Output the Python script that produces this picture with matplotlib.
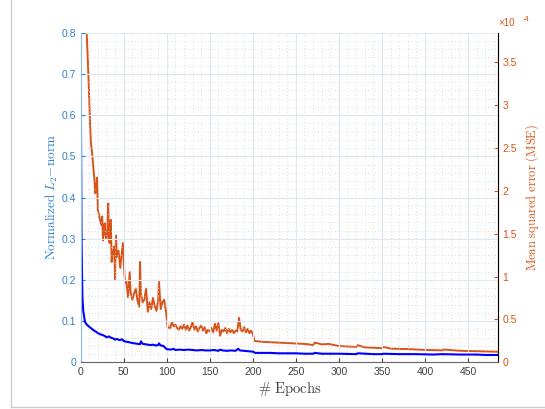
import numpy as np
import matplotlib
matplotlib.use("Agg")
import matplotlib.pyplot as plt
from matplotlib.lines import Line2D
from matplotlib.ticker import MultipleLocator

# Data, as (epoch, value) pairs
# Normalized L2-norm (left axis)
norm_points = [
    (0, 0.735), (1, 0.30), (2, 0.16), (3, 0.125), (5, 0.098), (7, 0.092), (9, 0.088),
    (12, 0.083), (15, 0.078), (18, 0.074), (20, 0.071), (23, 0.068), (26, 0.066),
    (28, 0.064), (30, 0.061), (33, 0.063), (35, 0.060), (38, 0.058), (40, 0.055),
    (42, 0.057), (45, 0.054), (48, 0.056), (50, 0.052), (53, 0.050), (56, 0.049),
    (60, 0.047), (63, 0.046), (66, 0.045), (69, 0.044), (70, 0.051), (72, 0.045),
    (75, 0.044), (78, 0.043), (81, 0.042), (84, 0.043), (87, 0.041), (90, 0.042),
    (91, 0.046), (93, 0.041), (96, 0.040), (100, 0.032), (105, 0.031), (108, 0.033),
    (110, 0.030), (115, 0.031), (120, 0.030), (125, 0.031), (130, 0.030), (135, 0.029),
    (140, 0.030), (145, 0.029), (150, 0.029), (155, 0.030), (160, 0.028), (162, 0.031),
    (165, 0.029), (170, 0.028), (175, 0.029), (180, 0.028), (183, 0.033), (185, 0.029),
    (190, 0.028), (195, 0.027), (200, 0.026), (203, 0.023), (210, 0.023), (220, 0.023),
    (230, 0.022), (240, 0.022), (250, 0.022), (260, 0.021), (270, 0.021), (272, 0.023),
    (280, 0.021), (290, 0.021), (300, 0.021), (320, 0.020), (322, 0.022), (340, 0.020),
    (350, 0.020), (352, 0.021), (370, 0.020), (390, 0.020), (410, 0.019), (420, 0.020),
    (440, 0.019), (460, 0.019), (470, 0.018), (484, 0.018),
]

# Mean squared error, in units of 1e-4 (right axis)
mse_points = [
    (1, 6.0), (6, 4.0), (7, 3.84), (9, 3.35), (11, 2.75), (12, 2.55), (13, 2.47),
    (15, 2.24), (16, 2.12), (17, 1.97), (18, 2.05), (19, 2.15), (20, 1.78), (21, 1.73),
    (22, 1.68), (24, 1.60), (25, 1.70), (26, 1.42), (27, 1.55), (28, 1.62), (29, 1.48),
    (30, 1.44), (31, 1.52), (32, 1.85), (33, 1.40), (34, 1.39), (35, 1.66), (36, 1.17),
    (37, 1.30), (38, 1.27), (39, 1.35), (40, 0.96), (41, 1.48), (42, 1.23), (44, 1.30),
    (46, 1.10), (47, 1.20), (49, 1.39), (51, 1.00), (52, 0.92), (53, 0.95), (55, 0.76),
    (57, 1.05), (58, 0.82), (60, 0.73), (62, 0.80), (64, 0.86), (66, 0.72), (68, 0.65),
    (69, 1.17), (70, 0.80), (72, 0.70), (74, 0.73), (76, 0.86), (78, 0.59), (80, 0.70),
    (82, 0.62), (84, 0.75), (86, 0.66), (88, 0.60), (90, 0.72), (91, 0.94), (93, 0.62),
    (95, 0.70), (97, 0.73), (99, 0.60), (101, 0.41), (104, 0.40), (106, 0.47),
    (108, 0.42), (110, 0.44), (112, 0.40), (114, 0.38), (116, 0.42), (118, 0.39),
    (120, 0.44), (122, 0.38), (124, 0.43), (126, 0.37), (128, 0.41), (130, 0.47),
    (132, 0.38), (134, 0.42), (136, 0.36), (138, 0.40), (140, 0.43), (142, 0.37),
    (144, 0.41), (146, 0.34), (148, 0.38), (150, 0.36), (152, 0.40), (154, 0.35),
    (156, 0.45), (158, 0.37), (160, 0.46), (162, 0.31), (164, 0.38), (166, 0.36),
    (168, 0.40), (170, 0.34), (172, 0.39), (174, 0.35), (176, 0.38), (178, 0.34),
    (180, 0.37), (182, 0.36), (184, 0.52), (186, 0.38), (188, 0.36), (190, 0.41),
    (192, 0.35), (194, 0.39), (196, 0.34), (198, 0.37), (200, 0.33), (202, 0.25),
    (210, 0.24), (220, 0.235), (230, 0.23), (240, 0.225), (250, 0.22), (260, 0.215),
    (265, 0.21), (270, 0.20), (272, 0.23), (280, 0.21), (288, 0.215), (295, 0.20),
    (300, 0.19), (310, 0.185), (320, 0.18), (322, 0.20), (330, 0.175), (340, 0.17),
    (350, 0.165), (352, 0.18), (360, 0.16), (380, 0.155), (400, 0.145), (420, 0.14),
    (422, 0.15), (440, 0.135), (460, 0.13), (470, 0.128), (484, 0.124),
]

norm_epochs = [p[0] for p in norm_points]
norm_vals = [p[1] for p in norm_points]
mse_epochs = [p[0] for p in mse_points]
mse_vals = [p[1] for p in mse_points]

x_ticks = [0, 50, 100, 150, 200, 250, 300, 350, 400, 450]
left_ticks = [0, 0.1, 0.2, 0.3, 0.4, 0.5, 0.6, 0.7, 0.8]
right_ticks = [0, 0.5, 1, 1.5, 2, 2.5, 3, 3.5]
right_labels = ["0", "0.5", "1", "1.5", "2", "2.5", "3", "3.5"]

orange = (0.85, 0.325, 0.098)
left_col = (0.2, 0.5, 0.8)

plt.rcParams["font.family"] = ["Liberation Sans", "DejaVu Sans"]
plt.rcParams["mathtext.fontset"] = "cm"

fig = plt.figure(figsize=(5.45, 4.09), dpi=100)
ax = fig.add_axes([0.148, 0.114, 0.766, 0.806])
ax2 = ax.twinx()

# MSE drawn first so blue stays on top, as in the reference
ax2.plot(mse_epochs, mse_vals, color=orange, linewidth=1.4)
ax.plot(norm_epochs, norm_vals, color="blue", linewidth=1.5)
ax.set_zorder(ax2.get_zorder() + 1)
ax.patch.set_visible(False)

ax.set_xlim(0, 485)
ax.set_ylim(0, 0.8)
ax2.set_ylim(0, 3.84)

ax.set_xticks(x_ticks)
ax.xaxis.set_minor_locator(MultipleLocator(10))
ax.set_yticks(left_ticks)
ax.set_yticklabels([f"{t:g}" for t in left_ticks])
ax.yaxis.set_minor_locator(MultipleLocator(0.02))
ax2.set_yticks(right_ticks)
ax2.set_yticklabels(right_labels)

# grid like MATLAB: light solid major, dotted minor
ax2.grid(False)
ax.grid(True, which="major", color=(0.87, 0.91, 0.95), linewidth=0.8, linestyle="-")
ax.grid(True, which="minor", color=(0.82, 0.82, 0.82), linewidth=0.6, linestyle=(0, (1, 3)))
ax.set_axisbelow(True)

ax.tick_params(axis="both", which="both", direction="in", labelsize=7.5, pad=3)
ax.tick_params(axis="both", which="minor", length=0)
ax.tick_params(axis="x", colors=(0.25, 0.25, 0.25), length=3)
ax.tick_params(axis="y", colors=left_col, length=3)
ax2.tick_params(axis="y", direction="in", colors=orange, labelsize=7.5, length=3, pad=3)

for a in (ax, ax2):
    a.spines["top"].set_visible(False)
ax.spines["left"].set_color((0.55, 0.75, 0.9))
ax.spines["bottom"].set_color((0.4, 0.4, 0.4))
ax2.spines["right"].set_color((0.95, 0.55, 0.4))
ax2.spines["left"].set_visible(False)
ax2.spines["bottom"].set_visible(False)

ax.set_xlabel(r"$\#\ \mathrm{Epochs}$", fontsize=10.5, color=(0.25, 0.25, 0.25))
ax.xaxis.set_label_coords(0.5, -0.052)
ax.set_ylabel(r"$\mathrm{Normalized}\ L_2\mathrm{-norm}$", fontsize=9.5, color=left_col,
              va="center")
ax.yaxis.set_label_coords(-0.069, 0.5)
ax2.set_ylabel(r"$\mathrm{Mean\ squared\ error\ (MSE)}$", fontsize=9, color=orange,
               va="center")
ax2.yaxis.set_label_coords(1.081, 0.5)

ax2.text(1.0, 1.015, "×10", transform=ax2.transAxes, color=orange,
         fontsize=7, ha="left", va="bottom")
ax2.text(1.058, 1.03, "-4", transform=ax2.transAxes, color=orange,
         fontsize=5.5, ha="left", va="bottom")

# screenshot frame lines (left and bottom)
fig.add_artist(Line2D([11 / 545, 11 / 545], [2 / 409, 1], color=(0.8, 0.8, 0.8), linewidth=1))
fig.add_artist(Line2D([11 / 545, 1], [2 / 409, 2 / 409], color=(0.8, 0.8, 0.8), linewidth=1))

fig.savefig("out.png", dpi=100)
